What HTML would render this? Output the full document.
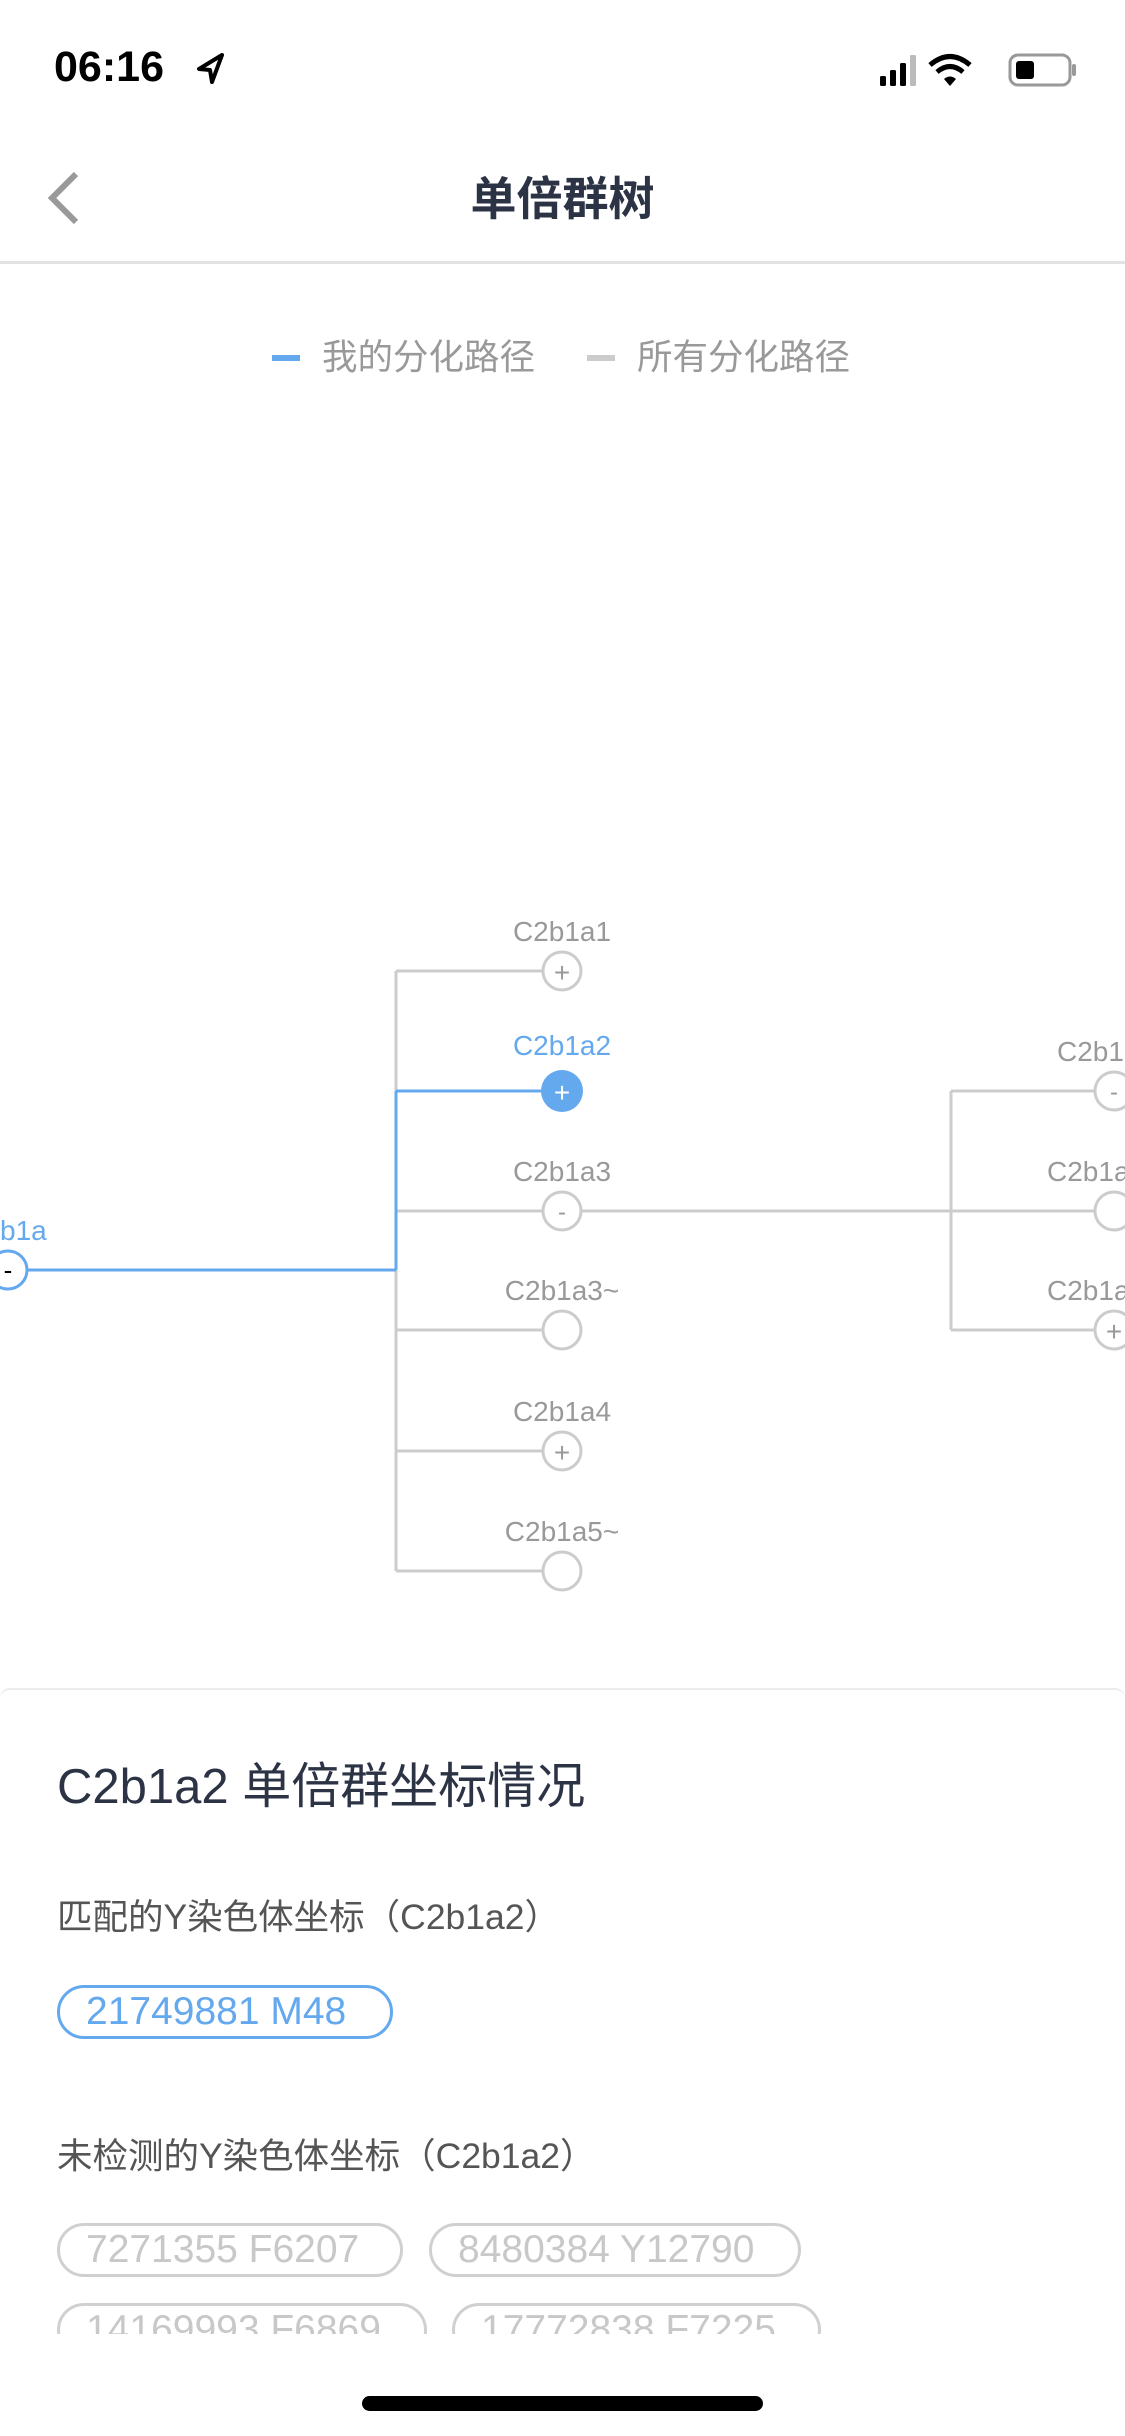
<!DOCTYPE html>
<html><head><meta charset="utf-8"><style>
html,body{margin:0;padding:0;width:1125px;height:2436px;background:#fff;overflow:hidden;font-family:"Liberation Sans","Noto Sans CJK SC",sans-serif;}
.a{position:absolute;white-space:nowrap;}
.pill{position:absolute;box-sizing:border-box;border:3px solid #d0d0d0;border-radius:28px;color:#c8c8c8;font-size:39px;line-height:48px;padding:0 26px;height:54px;}
</style></head><body>
<div class="a" style="left:54px;top:43px;font-size:43px;font-weight:bold;color:#000;">06:16</div>
<svg class="a" style="left:196px;top:52px" width="30" height="34" viewBox="0 0 30 34"><path d="M26 3 L3 17 L14 18 L16 30 Z" fill="none" stroke="#000" stroke-width="4" stroke-linejoin="round"/></svg>
<svg class="a" style="left:880px;top:50px" width="200" height="40">
<rect x="0" y="26" width="6" height="10" rx="1.5" fill="#000"/><rect x="10" y="20" width="6" height="16" rx="1.5" fill="#000"/><rect x="20" y="13" width="6" height="23" rx="1.5" fill="#000"/><rect x="30" y="5" width="6" height="31" rx="1.5" fill="#bbb"/>
<path d="M50 15 Q70 -2 90 15" stroke="#000" stroke-width="5" fill="none"/><path d="M57 22 Q70 11 83 22" stroke="#000" stroke-width="5" fill="none"/><path d="M64 29 L70 36 L76 29 Q70 24 64 29Z" fill="#000"/>
<rect x="130" y="5" width="60" height="30" rx="8" fill="none" stroke="#999" stroke-width="3"/><rect x="136" y="11" width="18" height="18" rx="3" fill="#000"/><rect x="192" y="14" width="4" height="12" rx="2" fill="#999"/>
</svg>
<svg class="a" style="left:40px;top:168px" width="50" height="60"><path d="M36 6 L12 30 L36 54" stroke="#999" stroke-width="6" fill="none"/></svg>
<div class="a" style="left:0;width:1125px;top:172px;text-align:center;font-size:46px;font-weight:bold;color:#2b3345;line-height:54px;">单倍群树</div>
<div class="a" style="left:0;top:261px;width:1125px;height:3px;background:#e2e2e2"></div>
<div class="a" style="left:272px;top:355px;width:28px;height:6px;background:#64a8ee"></div>
<div class="a" style="left:322px;top:335px;font-size:35.5px;color:#999;line-height:44px">我的分化路径</div>
<div class="a" style="left:587px;top:355px;width:28px;height:6px;background:#ccc"></div>
<div class="a" style="left:637px;top:335px;font-size:35.5px;color:#999;line-height:44px">所有分化路径</div>
<svg class="a" style="left:0;top:0" width="1125" height="1680" font-family="Liberation Sans, sans-serif" font-size="28">
<g stroke="#ccc" stroke-width="3" fill="none">
<line x1="396" y1="971" x2="396" y2="1571"/>
<line x1="396" y1="971" x2="543" y2="971"/>
<line x1="396" y1="1211" x2="543" y2="1211"/>
<line x1="581" y1="1211" x2="951" y2="1211"/>
<line x1="396" y1="1330" x2="543" y2="1330"/>
<line x1="396" y1="1451" x2="543" y2="1451"/>
<line x1="396" y1="1571" x2="543" y2="1571"/>
<line x1="951" y1="1091" x2="951" y2="1330"/>
<line x1="951" y1="1091" x2="1095" y2="1091"/>
<line x1="951" y1="1211" x2="1095" y2="1211"/>
<line x1="951" y1="1330" x2="1095" y2="1330"/>
<circle cx="562" cy="971" r="19" fill="#fff"/><circle cx="562" cy="1211" r="19" fill="#fff"/><circle cx="562" cy="1330" r="19" fill="#fff"/><circle cx="562" cy="1451" r="19" fill="#fff"/><circle cx="562" cy="1571" r="19" fill="#fff"/>
<circle cx="1114" cy="1091" r="19" fill="#fff"/><circle cx="1114" cy="1211" r="19" fill="#fff"/><circle cx="1114" cy="1330" r="19" fill="#fff"/>
</g>
<g stroke="#64a8ee" stroke-width="3" fill="none">
<line x1="27" y1="1270" x2="396" y2="1270"/>
<line x1="396" y1="1091" x2="396" y2="1270"/>
<line x1="396" y1="1091" x2="543" y2="1091"/>
<circle cx="8" cy="1270" r="19" fill="#fff"/>
</g>
<circle cx="562" cy="1091" r="21" fill="#64a8ee"/>
<g fill="#999" text-anchor="middle">
<text x="562" y="941">C2b1a1</text><text x="562" y="1181">C2b1a3</text><text x="562" y="1300">C2b1a3~</text><text x="562" y="1421">C2b1a4</text><text x="562" y="1541">C2b1a5~</text>
<text x="1057" y="1061" text-anchor="start">C2b1</text><text x="1047" y="1181" text-anchor="start">C2b1a</text><text x="1047" y="1300" text-anchor="start">C2b1a</text>
<text x="562" y="982" font-size="28">+</text><text x="562" y="1451" dy="11" font-size="28">+</text><text x="562" y="1220" font-size="24">-</text>
<text x="1114" y="1100" font-size="24">-</text><text x="1114" y="1341" font-size="28">+</text>
</g>
<text x="562" y="1055" fill="#64a8ee" text-anchor="middle">C2b1a2</text>
<text x="562" y="1102" fill="#fff" text-anchor="middle" font-size="28">+</text>
<text x="0" y="1240" fill="#64a8ee">b1a</text>
<text x="8" y="1279" fill="#000" text-anchor="middle" font-size="26">-</text>
</svg>
<div class="a" style="left:0;top:1688px;width:1125px;height:644px;border-top:2px solid #ececec;border-radius:10px 10px 0 0;overflow:hidden;">
<div class="a" style="left:57px;top:68px;font-size:49px;color:#2b3345;line-height:58px">C2b1a2 单倍群坐标情况</div>
<div class="a" style="left:57px;top:205px;font-size:35.5px;color:#555;line-height:44px">匹配的Y染色体坐标（C2b1a2）</div>
<div class="pill" style="left:57px;top:295px;width:336px;border-color:#64a8ee;color:#64a8ee;">21749881 M48</div>
<div class="a" style="left:57px;top:444px;font-size:35.5px;color:#555;line-height:44px">未检测的Y染色体坐标（C2b1a2）</div>
<div class="pill" style="left:57px;top:533px;width:346px;">7271355 F6207</div>
<div class="pill" style="left:429px;top:533px;width:372px;">8480384 Y12790</div>
<div class="pill" style="left:57px;top:613px;width:370px;">14169993 F6869</div>
<div class="pill" style="left:452px;top:613px;width:369px;">17772838 F7225</div>
</div>
<div class="a" style="left:362px;top:2396px;width:401px;height:15px;border-radius:8px;background:#000"></div>
</body></html>
